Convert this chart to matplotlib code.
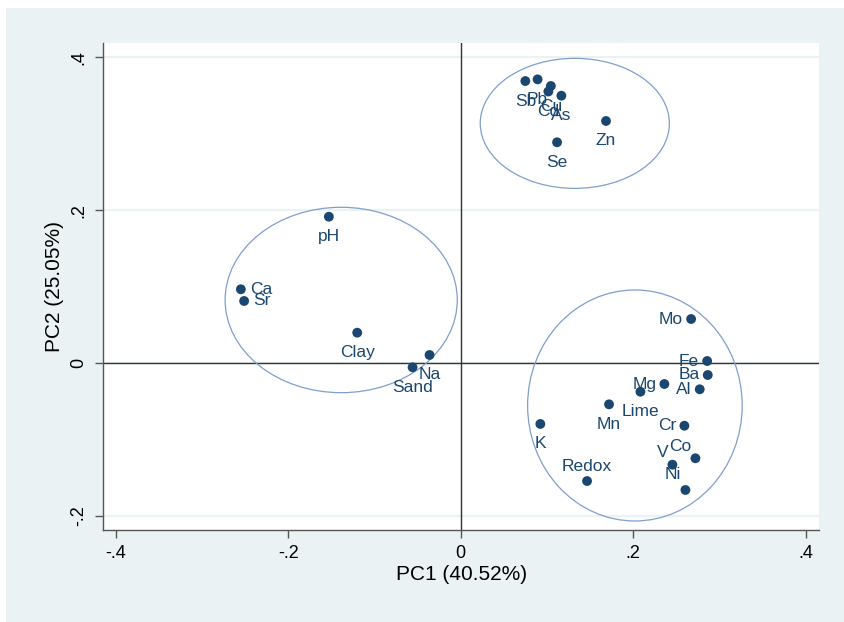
import matplotlib
matplotlib.use("Agg")
import matplotlib.pyplot as plt
from matplotlib.patches import Ellipse, Rectangle

plt.rcParams['font.family'] = ['Liberation Sans', 'DejaVu Sans']

# ---- data ----
names = ["Sb", "Pb", "Cd", "Cu", "As", "Zn", "Se",
         "pH", "Ca", "Sr", "Clay", "Na", "Sand",
         "Mo", "Fe", "Ba", "Al", "Mg", "Lime", "Mn", "K", "Cr", "Co", "V", "Ni", "Redox"]
pc1 = [0.0749, 0.0891, 0.1016, 0.1045, 0.1167, 0.1685, 0.1117,
       -0.1530, -0.2551, -0.2513, -0.1201, -0.0362, -0.0559,
       0.2672, 0.2858, 0.2865, 0.2772, 0.2362, 0.2084, 0.1720, 0.0923, 0.2594, 0.2722, 0.2455, 0.2606, 0.1465]
pc2 = [0.3691, 0.3713, 0.3554, 0.3626, 0.3499, 0.3168, 0.2889,
       0.1915, 0.0965, 0.0812, 0.0397, 0.0105, -0.0056,
       0.0576, 0.0026, -0.0157, -0.0344, -0.0275, -0.0376, -0.0541, -0.0798, -0.0821, -0.1247, -0.1331, -0.1662, -0.1545]

# cluster ellipses: center x, center y, width, height (data units)
ell_cx = [0.1323, -0.1387, 0.2020]
ell_cy = [0.3137, 0.0825, -0.0556]
ell_w = [0.2194, 0.2693, 0.2489]
ell_h = [0.1702, 0.2427, 0.3024]

xticks = [-0.4, -0.2, 0, 0.2, 0.4]
yticks = [-0.2, 0, 0.2, 0.4]
tick_labels_x = ["-.4", "-.2", "0", ".2", ".4"]
tick_labels_y = ["-.2", "0", ".2", ".4"]

# ---- label placement (style) ----
below = (0, -20, 'center', 'center')
left = (-8, 0, 'right', 'center')
right = (9, 0, 'left', 'center')
upleft = (-4, 12, 'right', 'center')
upleft2 = (-4, 15, 'right', 'center')
above = (0, 15, 'center', 'center')
pos = {"Sb": below, "Pb": below, "Cd": below, "Cu": below, "As": below, "Zn": below, "Se": below,
       "pH": below, "Ca": right, "Sr": right, "Clay": below, "Na": below, "Sand": below,
       "Mo": left, "Fe": left, "Ba": left, "Al": left, "Mg": left, "Lime": below, "Mn": below,
       "K": below, "Cr": left, "Co": upleft, "V": upleft, "Ni": upleft2, "Redox": above}

navy = '#1A476F'
bg = '#EAF2F3'
ellc = '#7F9FCC'

fig = plt.figure(figsize=(8.45, 6.22), dpi=100)
fig.patch.set_facecolor('white')
fig.patches.append(Rectangle((6/845, 0), 1 - 6/845, (622 - 7.5)/622,
                             transform=fig.transFigure, facecolor=bg, edgecolor='none', zorder=-10))

ax = fig.add_axes([103/845, 1 - 530/622, (819.3 - 103)/845, (530 - 43.3)/622])
ax.set_facecolor('white')
ax.set_xlim(-0.415, 0.4159)
ax.set_ylim(-0.2186, 0.4185)

for yt in yticks:
    ax.axhline(yt, color=bg, lw=1.6, zorder=0)
ax.axhline(0, color='#333333', lw=1.0, zorder=1)
ax.axvline(0, color='#333333', lw=1.0, zorder=1)

for cx, cy, w, h in zip(ell_cx, ell_cy, ell_w, ell_h):
    ax.add_patch(Ellipse((cx, cy), w, h, facecolor='none', edgecolor=ellc, lw=0.9, zorder=2))

ax.scatter(pc1, pc2, s=50, color=navy, zorder=3, edgecolors='none')
for n, x, y in zip(names, pc1, pc2):
    dx, dy, ha, va = pos[n]
    ax.annotate(n, (x, y), xytext=(dx, dy), textcoords='offset pixels',
                ha=ha, va=va, color=navy, fontsize=12.5, zorder=4)

ax.set_xticks(xticks)
ax.set_xticklabels(tick_labels_x)
ax.set_yticks(yticks)
ax.set_yticklabels(tick_labels_y, rotation=90, va='center')
ax.tick_params(direction='out', length=6, width=1, color='#555555', labelsize=13, labelcolor='black', pad=5)
for s in ['top', 'right']:
    ax.spines[s].set_visible(False)
for s in ['left', 'bottom']:
    ax.spines[s].set_color('#555555')
    ax.spines[s].set_linewidth(1)

ax.set_xlabel("PC1 (40.52%)", fontsize=15, labelpad=2)
ax.set_ylabel("PC2 (25.05%)", fontsize=15, labelpad=5)

fig.savefig("out.png", dpi=100)
